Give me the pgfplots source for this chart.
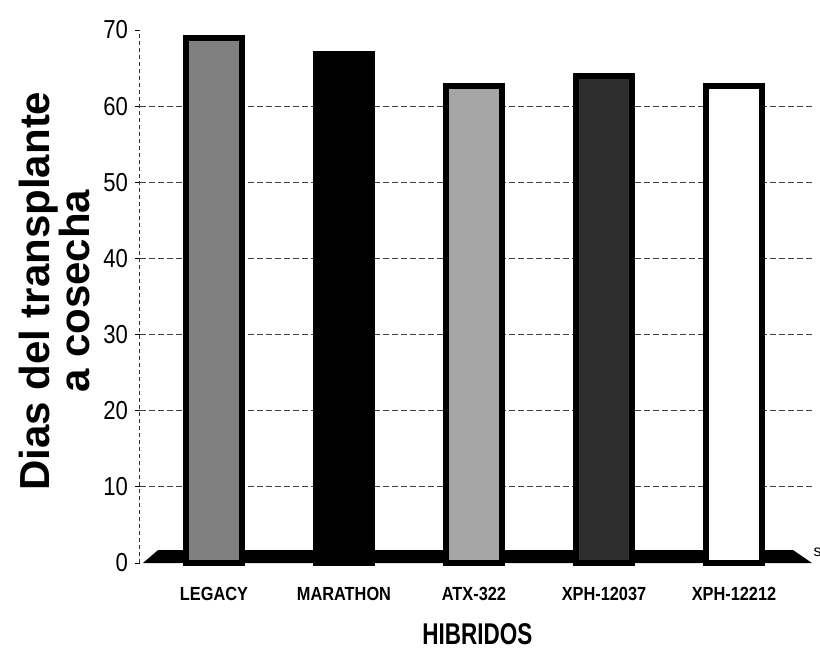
\documentclass[border=0pt]{standalone}
\usepackage{fontspec}
\setmainfont{Liberation Sans}
\usepackage{pgfplots}
\pgfplotsset{compat=1.18}
\newcommand\ytl[1]{\scalebox{0.85}[1]{\fontsize{13}{15}\selectfont #1}}
\newcommand\xtl[1]{\scalebox{0.86}[1]{\fontsize{9.5}{11}\selectfont\bfseries #1}}
\begin{document}
\begin{tikzpicture}
\useasboundingbox (-70pt,-43pt) rectangle (340pt,281.5pt);
\begin{axis}[
  at={(0pt,0pt)}, anchor=south west,
  scale only axis, width=337.3pt, height=266.5pt,
  xmin=-0.569, xmax=4.62, ymin=0, ymax=70,
  clip=false,
  axis lines*=left,
  x axis line style={draw=none},
  y axis line style={black!80, line width=0.5pt, dash pattern=on 2pt off 1.5pt},
  xtick={0,1,2,3,4},
  xticklabels={\xtl{LEGACY},\xtl{MARATHON},\xtl{ATX-322},\xtl{XPH-12037},\xtl{XPH-12212}},
  xtick style={draw=none},
  xticklabel style={yshift=-6pt},
  ytick={0,10,...,70},
  yticklabels={\ytl{0},\ytl{10},\ytl{20},\ytl{30},\ytl{40},\ytl{50},\ytl{60},\ytl{70}},
  ytick style={black, line width=0.5pt},
  tick align=outside, major tick length=2.5pt,
  extra y ticks={10,20,30,40,50,60},
  extra y tick labels={},
  extra y tick style={grid=major, major tick length=0pt},
  grid style={black!75, line width=0.5pt, dash pattern=on 3pt off 1.5pt},
  xlabel={\scalebox{0.75}[1]{\fontsize{15}{17}\selectfont\bfseries HIBRIDOS}},
  xlabel style={at={(axis description cs:0.5,-0.133)}, anchor=center},
  ylabel={Dias del transplante\\a cosecha},
  ylabel style={at={(axis description cs:-0.127,0.51)}, anchor=center, align=center,
                font=\fontsize{21}{20}\selectfont\bfseries},
]
% floor
\addplot[fill=black, draw=none, forget plot] coordinates {(-0.546,0) (-0.43,1.7) (4.454,1.7) (4.6,0)} -- cycle;
% bars
\addplot[ybar, bar width=28pt, bar shift=0pt, fill=black!50, draw=black, line width=3pt] coordinates {(0,68.9)};
\addplot[ybar, bar width=28pt, bar shift=0pt, fill=black, draw=black, line width=3pt] coordinates {(1,66.8)};
\addplot[ybar, bar width=28pt, bar shift=0pt, fill=black!35, draw=black, line width=3pt] coordinates {(2,62.7)};
\addplot[ybar, bar width=28pt, bar shift=0pt, fill=black!82, draw=black, line width=3pt] coordinates {(3,63.9)};
\addplot[ybar, bar width=28pt, bar shift=0pt, fill=white, draw=black, line width=3pt] coordinates {(4,62.6)};
\node[anchor=west, font=\fontsize{8}{9}\selectfont, inner sep=0pt] at (axis description cs:0.998,0.021) {s};
\end{axis}
\end{tikzpicture}
\end{document}
